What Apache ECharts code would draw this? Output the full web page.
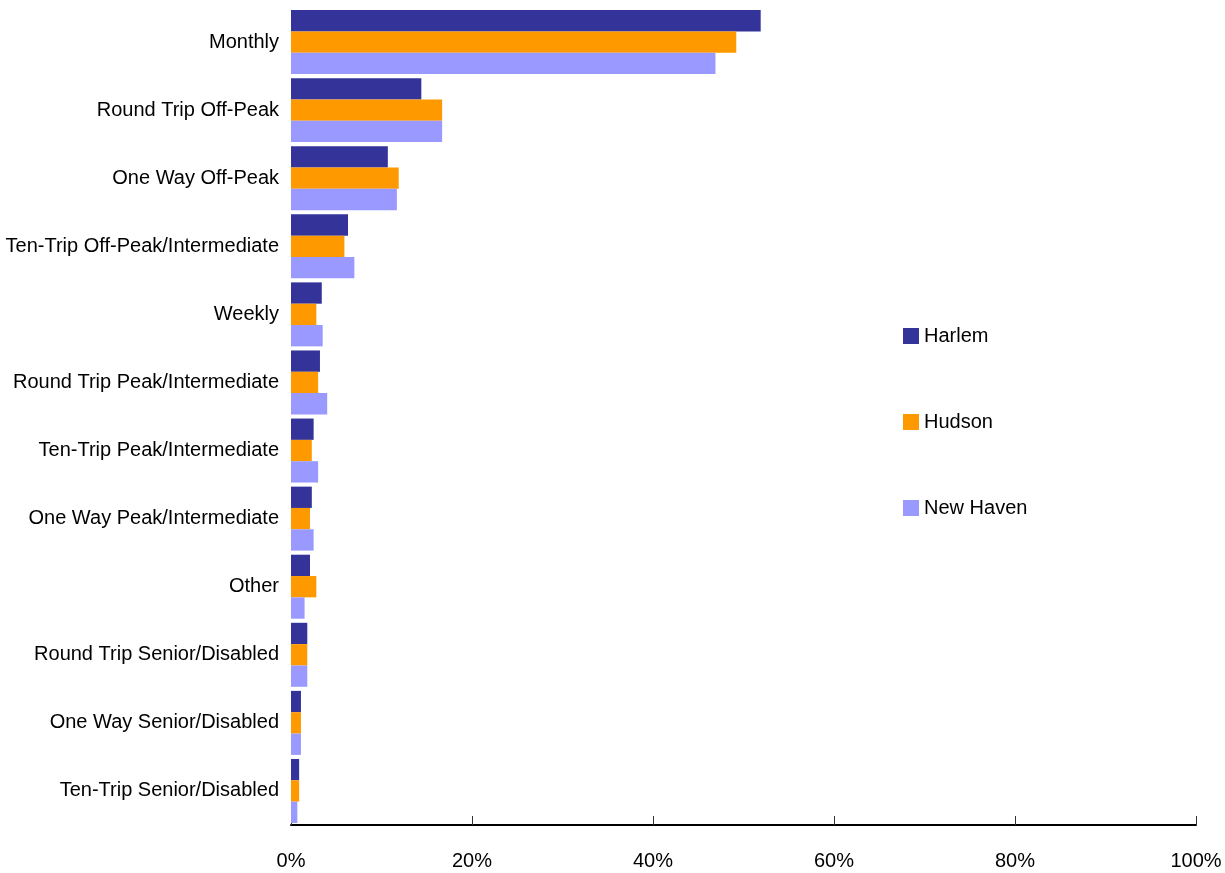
<!DOCTYPE html>
<html>
<head>
<meta charset="utf-8">
<script src="https://cdn.jsdelivr.net/npm/echarts@6/dist/echarts.min.js"></script>
<style>html,body{margin:0;padding:0;background:#fff;}#c{width:1225px;height:873px;}</style>
</head>
<body>
<div id="c"></div>
<script>
const categories = ["Monthly","Round Trip Off-Peak","One Way Off-Peak","Ten-Trip Off-Peak/Intermediate","Weekly","Round Trip Peak/Intermediate","Ten-Trip Peak/Intermediate","One Way Peak/Intermediate","Other","Round Trip Senior/Disabled","One Way Senior/Disabled","Ten-Trip Senior/Disabled"];
const harlem   = [51.9,14.4,10.7,6.3,3.4,3.2,2.5,2.3,2.1,1.8,1.1,0.9];
const hudson   = [49.2,16.7,11.9,5.9,2.8,3.0,2.3,2.1,2.8,1.8,1.1,0.9];
const newHaven = [46.9,16.7,11.7,7.0,3.5,4.0,3.0,2.5,1.5,1.8,1.1,0.7];
const xTicks = [0,20,40,60,80,100];

const FONT = "'Liberation Sans',Arial,sans-serif";
const chart = echarts.init(document.getElementById('c'));
chart.setOption({
  animation:false,
  backgroundColor:'#fff',
  grid:{left:291,right:29,top:8,bottom:48,containLabel:false,outerBoundsMode:'none'},
  legend:{
    orient:'vertical', left:898, top:321, itemWidth:16, itemHeight:16, itemGap:66,
    icon:'rect',
    textStyle:{fontFamily:FONT,fontSize:20,color:'#000'},
    data:['Harlem','Hudson','New Haven']
  },
  xAxis:{
    type:'value', min:0, max:100, interval:20,
    axisLine:{show:true,lineStyle:{color:'#000',width:2}},
    axisTick:{show:true,inside:true,length:9,lineStyle:{color:'#333',width:1}},
    splitLine:{show:false},
    axisLabel:{margin:26,fontFamily:FONT,fontSize:20,color:'#000',formatter:v=>xTicks.includes(v)?v+'%':''}
  },
  yAxis:{
    type:'category', inverse:true, data:categories,
    axisLine:{show:false}, axisTick:{show:false},
    axisLabel:{margin:12,fontFamily:FONT,fontSize:20,color:'#000'}
  },
  series:[
    {name:'Harlem',type:'bar',data:harlem,itemStyle:{color:'#333399'},barGap:'0%',barCategoryGap:'6%'},
    {name:'Hudson',type:'bar',data:hudson,itemStyle:{color:'#FF9900'},barGap:'0%',barCategoryGap:'6%'},
    {name:'New Haven',type:'bar',data:newHaven,itemStyle:{color:'#9999FF'},barGap:'0%',barCategoryGap:'6%'}
  ]
});
</script>
</body>
</html>
